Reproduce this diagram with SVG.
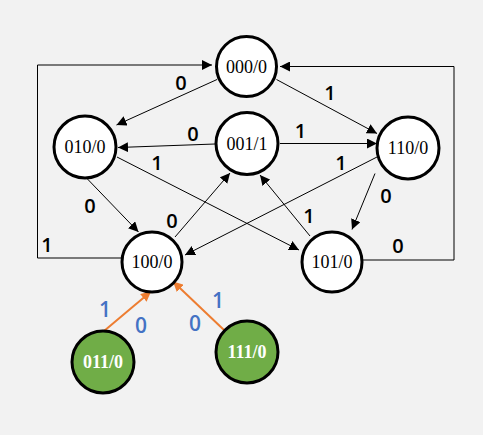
<svg xmlns="http://www.w3.org/2000/svg" width="483" height="435" viewBox="0 0 483 435">
<defs>
<marker id="ah" viewBox="0 0 10 10" refX="10" refY="5" markerWidth="10" markerHeight="10" markerUnits="userSpaceOnUse" orient="auto"><path d="M0,0 L10,5 L0,10 z" fill="#000"/></marker>
<marker id="ao" viewBox="0 0 10 10" refX="10" refY="5" markerWidth="10" markerHeight="10" markerUnits="userSpaceOnUse" orient="auto"><path d="M0,0 L10,5 L0,10 z" fill="#ed7d31"/></marker>
<style>
.n{fill:#fff;stroke:#000;stroke-width:3}
.g{fill:#70ad47;stroke:#000;stroke-width:3}
.t{font-family:"Liberation Serif",serif;font-size:18px;text-anchor:middle;fill:#000}
.tg{font-family:"Liberation Serif",serif;font-size:18px;font-weight:bold;text-anchor:middle;fill:#fff}
.e{stroke:#000;stroke-width:1;fill:none;marker-end:url(#ah)}
.o{stroke:#ed7d31;stroke-width:2;fill:none;marker-end:url(#ao)}
.l{font-family:"Open Sans","Liberation Sans",sans-serif;font-size:20px;font-weight:600;text-anchor:middle;fill:#000}
.lb{font-family:"Open Sans","Liberation Sans",sans-serif;font-size:21px;font-weight:600;text-anchor:middle;fill:#4472c4}
</style>
</defs>
<rect width="483" height="435" fill="#f2f2f2"/>
<g id="connectors">
<polyline class="e" points="121,258 37.5,258 37.5,65 212,65"/>
<polyline class="e" points="362,260 454,260 454,66.5 280,66.5"/>
<line class="e" x1="217" y1="79.5" x2="116.5" y2="125"/>
<line class="e" x1="276.5" y1="79.5" x2="377" y2="133.5"/>
<line class="e" x1="215" y1="144" x2="118" y2="147.5"/>
<line class="e" x1="280" y1="143.5" x2="377" y2="143.5"/>
<line class="e" x1="117" y1="157" x2="299" y2="250"/>
<line class="e" x1="377" y1="157" x2="185" y2="255"/>
<line class="e" x1="86.5" y1="178" x2="138.5" y2="232"/>
<line class="e" x1="175" y1="237" x2="230" y2="173"/>
<line class="e" x1="310" y1="236" x2="260" y2="175"/>
<line class="e" x1="375" y1="173.5" x2="352" y2="229.5"/>
<line class="o" x1="104" y1="331" x2="151" y2="291.5"/>
<line class="o" x1="224" y1="330" x2="173" y2="281.5"/>
<text class="l" x="181" y="90">0</text>
<text class="l" x="330" y="100">1</text>
<text class="l" x="193" y="141">0</text>
<text class="l" x="300.5" y="137.5">1</text>
<text class="l" x="157" y="170">1</text>
<text class="l" x="341" y="170">1</text>
<text class="l" x="90" y="213">0</text>
<text class="l" x="172" y="228">0</text>
<text class="l" x="386" y="203">0</text>
<text class="l" x="309" y="223">1</text>
<text class="l" x="398" y="253">0</text>
<text class="l" x="47" y="251.5">1</text>
<text class="lb" x="105" y="317">1</text>
<text class="lb" x="141" y="333">0</text>
<text class="lb" x="195" y="331">0</text>
<text class="lb" x="218" y="308">1</text>
</g>
<g id="n000"><circle class="n" cx="246.5" cy="66.5" r="30"/><text class="t" x="246.5" y="72.5">000/0</text></g>
<g id="n010"><circle class="n" cx="85" cy="147" r="31"/><text class="t" x="85" y="153">010/0</text></g>
<g id="n001"><circle class="n" cx="247" cy="143.5" r="31"/><text class="t" x="247" y="149.5">001/1</text></g>
<g id="n110"><circle class="n" cx="408" cy="148" r="31"/><text class="t" x="408" y="154">110/0</text></g>
<g id="n100"><circle class="n" cx="152" cy="262" r="30"/><text class="t" x="152" y="268">100/0</text></g>
<g id="n101"><circle class="n" cx="332" cy="262" r="30"/><text class="t" x="332" y="268">101/0</text></g>
<g id="n011"><circle class="g" cx="103" cy="362" r="31"/><text class="tg" x="103" y="368">011/0</text></g>
<g id="n111"><circle class="g" cx="247" cy="352" r="31"/><text class="tg" x="247" y="358">111/0</text></g>
</svg>
